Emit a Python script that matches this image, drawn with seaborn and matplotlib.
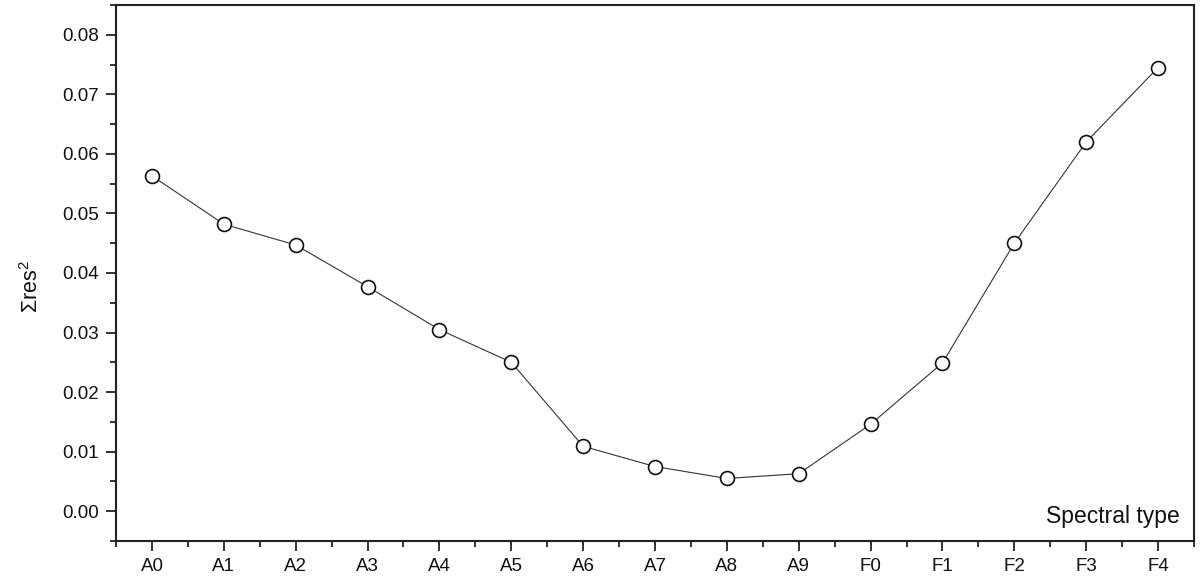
import numpy as np
import pandas as pd
import matplotlib
matplotlib.use("Agg")
import matplotlib.pyplot as plt
from matplotlib.ticker import MultipleLocator, FormatStrFormatter
import seaborn as sns

# donnees
spectral_types = ["A0", "A1", "A2", "A3", "A4", "A5", "A6", "A7", "A8", "A9",
                  "F0", "F1", "F2", "F3", "F4"]
sum_res2 = [0.0563, 0.0482, 0.0447, 0.0377, 0.0305, 0.0250, 0.0109, 0.0075,
            0.0055, 0.0063, 0.0146, 0.0249, 0.0450, 0.0620, 0.0745]

df = pd.DataFrame({"pos": np.arange(len(spectral_types)), "res": sum_res2})

sns.set_style("ticks")
plt.rcParams["font.family"] = ["Liberation Sans", "DejaVu Sans"]
plt.rcParams["mathtext.fontset"] = "custom"
plt.rcParams["mathtext.rm"] = "Liberation Sans"
plt.rcParams["mathtext.it"] = "Liberation Sans:italic"

fig = plt.figure(figsize=(12, 5.86), dpi=100)
ax = fig.add_axes([0.0967, 0.0768, 0.8983, 0.9147])

sns.lineplot(data=df, x="pos", y="res", ax=ax, color="#333333", linewidth=0.8,
             marker="o", markersize=10, markerfacecolor="white",
             markeredgecolor="#111111", markeredgewidth=1.2)

ax.set_xlim(-0.5, 14.5)
ax.set_ylim(-0.005, 0.085)
ax.set_xticks(df["pos"])
ax.set_xticklabels(spectral_types)
ax.xaxis.set_minor_locator(MultipleLocator(0.5))
ax.yaxis.set_major_locator(MultipleLocator(0.01))
ax.yaxis.set_minor_locator(MultipleLocator(0.005))
ax.yaxis.set_major_formatter(FormatStrFormatter("%.2f"))

for s in ax.spines.values():
    s.set_linewidth(1.5)
    s.set_color("#222222")
ax.tick_params(which="major", direction="out", length=7, width=1.3,
               labelsize=13.5, colors="#222222", labelcolor="#111111", pad=5)
ax.tick_params(which="minor", direction="out", length=4, width=1.3,
               colors="#222222")
ax.tick_params(top=False, right=False, which="both")

ax.set_xlabel("")
ax.set_ylabel(r"$\Sigma$res$^{2}$", fontsize=15.5, color="#111111")
ax.yaxis.set_label_coords(-0.068, 0.475)
ax.text(0.987, 0.024, "Spectral type", transform=ax.transAxes,
        ha="right", va="bottom", fontsize=16.5, color="#111111")

plt.savefig("out.png", dpi=100)
